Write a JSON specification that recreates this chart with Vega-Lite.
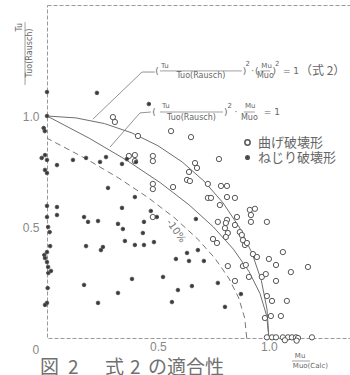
{
  "$schema": "https://vega.github.io/schema/vega-lite/v6.json",
  "width": 304,
  "height": 333,
  "autosize": {"type": "none"},
  "padding": {"left": 47, "top": 5, "right": 0, "bottom": 37},
  "background": "#ffffff",
  "config": {
    "view": {"stroke": "#999999", "strokeDash": [4, 2], "strokeWidth": 1},
    "axis": {"grid": false, "domain": false, "ticks": false, "labelColor": "#888888", "labelFont": "Liberation Sans", "labelFontSize": 12, "title": null}
  },
  "datasets": {
    "points": [
      {"x": 0.297, "y": 0.995, "type": "曲げ破壊形"}, {"x": 0.306, "y": 0.973, "type": "曲げ破壊形"}, {"x": 0.410, "y": 0.910, "type": "曲げ破壊形"}, {"x": 0.559, "y": 0.932, "type": "曲げ破壊形"}, {"x": 0.649, "y": 0.905, "type": "曲げ破壊形"},
      {"x": 0.369, "y": 0.820, "type": "曲げ破壊形"}, {"x": 0.396, "y": 0.824, "type": "曲げ破壊形"}, {"x": 0.396, "y": 0.797, "type": "曲げ破壊形"}, {"x": 0.477, "y": 0.820, "type": "曲げ破壊形"}, {"x": 0.477, "y": 0.797, "type": "曲げ破壊形"},
      {"x": 0.775, "y": 0.806, "type": "曲げ破壊形"}, {"x": 0.667, "y": 0.788, "type": "曲げ破壊形"}, {"x": 0.676, "y": 0.766, "type": "曲げ破壊形"}, {"x": 0.640, "y": 0.748, "type": "曲げ破壊形"}, {"x": 0.631, "y": 0.712, "type": "曲げ破壊形"},
      {"x": 0.644, "y": 0.707, "type": "曲げ破壊形"}, {"x": 0.568, "y": 0.680, "type": "曲げ破壊形"}, {"x": 0.477, "y": 0.694, "type": "曲げ破壊形"}, {"x": 0.477, "y": 0.671, "type": "曲げ破壊形"}, {"x": 0.725, "y": 0.694, "type": "曲げ破壊形"},
      {"x": 0.784, "y": 0.685, "type": "曲げ破壊形"}, {"x": 0.811, "y": 0.685, "type": "曲げ破壊形"}, {"x": 0.725, "y": 0.631, "type": "曲げ破壊形"}, {"x": 0.739, "y": 0.631, "type": "曲げ破壊形"}, {"x": 0.811, "y": 0.635, "type": "曲げ破壊形"},
      {"x": 0.847, "y": 0.631, "type": "曲げ破壊形"}, {"x": 0.779, "y": 0.599, "type": "曲げ破壊形"}, {"x": 0.477, "y": 0.545, "type": "曲げ破壊形"}, {"x": 0.914, "y": 0.577, "type": "曲げ破壊形"}, {"x": 0.937, "y": 0.582, "type": "曲げ破壊形"},
      {"x": 0.919, "y": 0.554, "type": "曲げ破壊形"}, {"x": 0.919, "y": 0.523, "type": "曲げ破壊形"}, {"x": 0.991, "y": 0.523, "type": "曲げ破壊形"}, {"x": 0.811, "y": 0.532, "type": "曲げ破壊形"}, {"x": 0.856, "y": 0.545, "type": "曲げ破壊形"},
      {"x": 0.770, "y": 0.523, "type": "曲げ破壊形"}, {"x": 0.806, "y": 0.518, "type": "曲げ破壊形"}, {"x": 0.802, "y": 0.495, "type": "曲げ破壊形"}, {"x": 0.815, "y": 0.473, "type": "曲げ破壊形"}, {"x": 0.806, "y": 0.455, "type": "曲げ破壊形"},
      {"x": 0.847, "y": 0.509, "type": "曲げ破壊形"}, {"x": 0.869, "y": 0.477, "type": "曲げ破壊形"}, {"x": 0.878, "y": 0.464, "type": "曲げ破壊形"}, {"x": 0.883, "y": 0.441, "type": "曲げ破壊形"}, {"x": 0.892, "y": 0.419, "type": "曲げ破壊形"},
      {"x": 0.748, "y": 0.446, "type": "曲げ破壊形"}, {"x": 0.766, "y": 0.428, "type": "曲げ破壊形"}, {"x": 0.901, "y": 0.428, "type": "曲げ破壊形"}, {"x": 0.928, "y": 0.378, "type": "曲げ破壊形"}, {"x": 0.946, "y": 0.365, "type": "曲げ破壊形"},
      {"x": 1.063, "y": 0.387, "type": "曲げ破壊形"}, {"x": 1.000, "y": 0.356, "type": "曲げ破壊形"}, {"x": 1.032, "y": 0.329, "type": "曲げ破壊形"}, {"x": 0.815, "y": 0.324, "type": "曲げ破壊形"}, {"x": 0.883, "y": 0.324, "type": "曲げ破壊形"},
      {"x": 0.896, "y": 0.329, "type": "曲げ破壊形"}, {"x": 0.910, "y": 0.275, "type": "曲げ破壊形"}, {"x": 0.968, "y": 0.275, "type": "曲げ破壊形"}, {"x": 0.986, "y": 0.288, "type": "曲げ破壊形"}, {"x": 1.032, "y": 0.257, "type": "曲げ破壊形"},
      {"x": 1.099, "y": 0.297, "type": "曲げ破壊形"}, {"x": 1.176, "y": 0.320, "type": "曲げ破壊形"}, {"x": 0.847, "y": 0.257, "type": "曲げ破壊形"}, {"x": 0.991, "y": 0.189, "type": "曲げ破壊形"}, {"x": 1.014, "y": 0.167, "type": "曲げ破壊形"},
      {"x": 1.081, "y": 0.167, "type": "曲げ破壊形"}, {"x": 0.982, "y": 0.090, "type": "曲げ破壊形"}, {"x": 1.009, "y": 0.099, "type": "曲げ破壊形"}, {"x": 1.054, "y": 0.099, "type": "曲げ破壊形"},
      {"x": 0.991, "y": 0.003, "type": "曲げ破壊形"}, {"x": 1.014, "y": 0.003, "type": "曲げ破壊形"}, {"x": 1.032, "y": 0.003, "type": "曲げ破壊形"}, {"x": 1.063, "y": 0.003, "type": "曲げ破壊形"}, {"x": 1.086, "y": 0.003, "type": "曲げ破壊形"},
      {"x": 1.104, "y": 0.003, "type": "曲げ破壊形"}, {"x": 1.122, "y": 0.003, "type": "曲げ破壊形"}, {"x": 1.131, "y": 0.0, "type": "曲げ破壊形"}, {"x": 1.194, "y": 0.003, "type": "曲げ破壊形"}, {"x": 1.072, "y": -0.010, "type": "曲げ破壊形"},
      {"x": 1.125, "y": -0.012, "type": "曲げ破壊形"},
      {"x": 0.0, "y": 1.108, "type": "ねじり破壊形"}, {"x": 0.0, "y": 1.0, "type": "ねじり破壊形"}, {"x": -0.015, "y": 0.946, "type": "ねじり破壊形"}, {"x": -0.010, "y": 0.932, "type": "ねじり破壊形"}, {"x": -0.009, "y": 0.824, "type": "ねじり破壊形"},
      {"x": -0.024, "y": 0.811, "type": "ねじり破壊形"}, {"x": 0.0, "y": 0.802, "type": "ねじり破壊形"}, {"x": -0.009, "y": 0.757, "type": "ねじり破壊形"}, {"x": 0.0, "y": 0.743, "type": "ねじり破壊形"}, {"x": 0.0, "y": 0.595, "type": "ねじり破壊形"},
      {"x": 0.0, "y": 0.545, "type": "ねじり破壊形"}, {"x": 0.005, "y": 0.500, "type": "ねじり破壊形"}, {"x": 0.012, "y": 0.477, "type": "ねじり破壊形"}, {"x": 0.014, "y": 0.414, "type": "ねじり破壊形"}, {"x": 0.0, "y": 0.387, "type": "ねじり破壊形"},
      {"x": -0.012, "y": 0.374, "type": "ねじり破壊形"}, {"x": -0.009, "y": 0.360, "type": "ねじり破壊形"}, {"x": 0.0, "y": 0.342, "type": "ねじり破壊形"}, {"x": 0.005, "y": 0.320, "type": "ねじり破壊形"}, {"x": 0.018, "y": 0.302, "type": "ねじり破壊形"},
      {"x": 0.006, "y": 0.293, "type": "ねじり破壊形"}, {"x": 0.003, "y": 0.225, "type": "ねじり破壊形"}, {"x": 0.0, "y": 0.158, "type": "ねじり破壊形"}, {"x": -0.009, "y": 0.149, "type": "ねじり破壊形"},
      {"x": 0.225, "y": 1.104, "type": "ねじり破壊形"}, {"x": 0.459, "y": 1.054, "type": "ねじり破壊形"}, {"x": 0.045, "y": 0.779, "type": "ねじり破壊形"}, {"x": 0.117, "y": 0.802, "type": "ねじり破壊形"}, {"x": 0.176, "y": 0.811, "type": "ねじり破壊形"},
      {"x": 0.239, "y": 0.793, "type": "ねじり破壊形"}, {"x": 0.266, "y": 0.815, "type": "ねじり破壊形"}, {"x": 0.338, "y": 0.784, "type": "ねじり破壊形"}, {"x": 0.360, "y": 0.806, "type": "ねじり破壊形"}, {"x": 0.401, "y": 0.793, "type": "ねじり破壊形"},
      {"x": 0.275, "y": 0.676, "type": "ねじり破壊形"}, {"x": 0.396, "y": 0.635, "type": "ねじり破壊形"}, {"x": 0.045, "y": 0.590, "type": "ねじり破壊形"}, {"x": 0.045, "y": 0.554, "type": "ねじり破壊形"}, {"x": 0.167, "y": 0.545, "type": "ねじり破壊形"},
      {"x": 0.185, "y": 0.523, "type": "ねじり破壊形"}, {"x": 0.230, "y": 0.527, "type": "ねじり破壊形"}, {"x": 0.338, "y": 0.586, "type": "ねじり破壊形"}, {"x": 0.468, "y": 0.572, "type": "ねじり破壊形"}, {"x": 0.495, "y": 0.545, "type": "ねじり破壊形"},
      {"x": 0.320, "y": 0.514, "type": "ねじり破壊形"}, {"x": 0.342, "y": 0.491, "type": "ねじり破壊形"}, {"x": 0.437, "y": 0.523, "type": "ねじり破壊形"}, {"x": 0.432, "y": 0.473, "type": "ねじり破壊形"}, {"x": 0.351, "y": 0.437, "type": "ねじり破壊形"},
      {"x": 0.396, "y": 0.419, "type": "ねじり破壊形"}, {"x": 0.437, "y": 0.419, "type": "ねじり破壊形"}, {"x": 0.482, "y": 0.432, "type": "ねじり破壊形"}, {"x": 0.176, "y": 0.414, "type": "ねじり破壊形"}, {"x": 0.252, "y": 0.410, "type": "ねじり破壊形"},
      {"x": 0.243, "y": 0.396, "type": "ねじり破壊形"}, {"x": 0.383, "y": 0.266, "type": "ねじり破壊形"}, {"x": 0.167, "y": 0.239, "type": "ねじり破壊形"}, {"x": 0.320, "y": 0.203, "type": "ねじり破壊形"}, {"x": 0.230, "y": 0.158, "type": "ねじり破壊形"},
      {"x": 0.523, "y": 0.275, "type": "ねじり破壊形"}, {"x": 0.563, "y": 0.162, "type": "ねじり破壊形"}, {"x": 0.581, "y": 0.356, "type": "ねじり破壊形"}, {"x": 0.631, "y": 0.383, "type": "ねじり破壊形"}, {"x": 0.640, "y": 0.347, "type": "ねじり破壊形"},
      {"x": 0.680, "y": 0.396, "type": "ねじり破壊形"}, {"x": 0.707, "y": 0.347, "type": "ねじり破壊形"}, {"x": 0.590, "y": 0.216, "type": "ねじり破壊形"}, {"x": 0.653, "y": 0.234, "type": "ねじり破壊形"}, {"x": 0.770, "y": 0.248, "type": "ねじり破壊形"},
      {"x": 0.802, "y": 0.140, "type": "ねじり破壊形"}, {"x": 0.874, "y": 0.198, "type": "ねじり破壊形"}, {"x": 0.671, "y": 0.536, "type": "ねじり破壊形"}
    ],
    "curves": [
      {"curve": "circle", "i": 0, "x": 1.0, "y": 0.0}, {"curve": "circle", "i": 1, "x": 0.9914, "y": 0.1305}, {"curve": "circle", "i": 2, "x": 0.9659, "y": 0.2588},
      {"curve": "circle", "i": 3, "x": 0.9239, "y": 0.3827}, {"curve": "circle", "i": 4, "x": 0.866, "y": 0.5}, {"curve": "circle", "i": 5, "x": 0.7934, "y": 0.6088},
      {"curve": "circle", "i": 6, "x": 0.7071, "y": 0.7071}, {"curve": "circle", "i": 7, "x": 0.6088, "y": 0.7934}, {"curve": "circle", "i": 8, "x": 0.5, "y": 0.866},
      {"curve": "circle", "i": 9, "x": 0.3827, "y": 0.9239}, {"curve": "circle", "i": 10, "x": 0.2588, "y": 0.9659}, {"curve": "circle", "i": 11, "x": 0.1305, "y": 0.9914},
      {"curve": "circle", "i": 12, "x": 0.0, "y": 1.0},
      {"curve": "parabola", "i": 0, "x": 1.0, "y": 0.0}, {"curve": "parabola", "i": 1, "x": 0.99, "y": 0.1}, {"curve": "parabola", "i": 2, "x": 0.96, "y": 0.2},
      {"curve": "parabola", "i": 3, "x": 0.91, "y": 0.3}, {"curve": "parabola", "i": 4, "x": 0.84, "y": 0.4}, {"curve": "parabola", "i": 5, "x": 0.75, "y": 0.5},
      {"curve": "parabola", "i": 6, "x": 0.64, "y": 0.6}, {"curve": "parabola", "i": 7, "x": 0.51, "y": 0.7}, {"curve": "parabola", "i": 8, "x": 0.36, "y": 0.8},
      {"curve": "parabola", "i": 9, "x": 0.19, "y": 0.9}, {"curve": "parabola", "i": 10, "x": 0.0, "y": 1.0},
      {"curve": "minus10", "i": 0, "x": 0.9, "y": 0.0}, {"curve": "minus10", "i": 1, "x": 0.891, "y": 0.09}, {"curve": "minus10", "i": 2, "x": 0.864, "y": 0.18},
      {"curve": "minus10", "i": 3, "x": 0.819, "y": 0.27}, {"curve": "minus10", "i": 4, "x": 0.756, "y": 0.36}, {"curve": "minus10", "i": 5, "x": 0.675, "y": 0.45},
      {"curve": "minus10", "i": 6, "x": 0.576, "y": 0.54}, {"curve": "minus10", "i": 7, "x": 0.459, "y": 0.63}, {"curve": "minus10", "i": 8, "x": 0.324, "y": 0.72},
      {"curve": "minus10", "i": 9, "x": 0.171, "y": 0.81}, {"curve": "minus10", "i": 10, "x": 0.0, "y": 0.9}
    ],
    "leaders": [
      {"id": "a", "i": 0, "x": 0.486, "y": 1.198}, {"id": "a", "i": 1, "x": 0.428, "y": 1.198}, {"id": "a", "i": 2, "x": 0.207, "y": 0.986},
      {"id": "b", "i": 0, "x": 0.468, "y": 1.018}, {"id": "b", "i": 1, "x": 0.419, "y": 1.014}, {"id": "b", "i": 2, "x": 0.284, "y": 0.860}
    ],
    "hbars": [
      {"x": 0.509, "x2": 0.878, "y": 1.203}, {"x": 0.962, "x2": 1.006, "y": 1.203},
      {"x": 0.509, "x2": 0.793, "y": 1.018}, {"x": 0.887, "x2": 0.937, "y": 1.018},
      {"x": 1.104, "x2": 1.185, "y": -0.1036}
    ],
    "vbars": [
      {"x": -0.099, "y": 1.14, "y2": 1.423}
    ],
    "tiny": [
      {"x": 0.5135, "y": 1.227, "text": "Tu"}, {"x": 0.966, "y": 1.227, "text": "Mu"},
      {"x": 0.518, "y": 1.043, "text": "Tu"}, {"x": 0.892, "y": 1.043, "text": "Mu"},
      {"x": 1.117, "y": -0.083, "text": "Mu"}, {"x": 1.108, "y": -0.126, "text": "Muo(Calc)"}
    ],
    "dens": [
      {"x": 0.6935, "y": 1.178, "text": "Tuo(Rausch)"}, {"x": 0.984, "y": 1.178, "text": "Muo"},
      {"x": 0.651, "y": 0.993, "text": "Tuo(Rausch)"}, {"x": 0.912, "y": 0.993, "text": "Muo"}
    ],
    "sups": [
      {"x": 0.905, "y": 1.232, "text": "2"}, {"x": 1.038, "y": 1.232, "text": "2"}, {"x": 0.824, "y": 1.047, "text": "2"}
    ],
    "ytitle": [
      {"x": -0.121, "y": 1.40, "text": "Tu"}, {"x": -0.077, "y": 1.284, "text": "Tuo(Rausch)"}
    ],
    "medium": [
      {"x": 0.4955, "y": 1.203, "text": "("}, {"x": 0.890, "y": 1.203, "text": ")"}, {"x": 0.927, "y": 1.203, "text": "·"},
      {"x": 0.945, "y": 1.203, "text": "("}, {"x": 1.024, "y": 1.203, "text": ")"},
      {"x": 0.482, "y": 1.018, "text": "("}, {"x": 0.806, "y": 1.018, "text": ")"}, {"x": 0.851, "y": 1.018, "text": "·"}
    ],
    "equals": [
      {"x": 1.063, "y": 1.203, "text": "= 1"}, {"x": 0.977, "y": 1.018, "text": "= 1"}
    ],
    "labels": [
      {"x": 1.14, "y": 1.203, "text": "（式 2）"}
    ],
    "ticktext": [
      {"x": -0.05, "y": -0.054, "text": "0"}
    ],
    "pct": [
      {"x": 0.581, "y": 0.482, "text": "-10%"}
    ],
    "caption": [
      {"x": -0.0315, "y": -0.133, "text": "図"}, {"x": 0.0946, "y": -0.133, "text": "2"}, {"x": 0.261, "y": -0.133, "text": "式"},
      {"x": 0.374, "y": -0.133, "text": "2"}, {"x": 0.455, "y": -0.133, "text": "の適合性"}
    ]
  },
  "encoding": {
    "x": {"field": "x", "type": "quantitative", "scale": {"domain": [0, 1.37], "nice": false, "zero": false},
          "axis": {"values": [0.5, 1], "labelExpr": "datum.value == 1 ? '1.0' : '0.5'", "labelPadding": 3}},
    "y": {"field": "y", "type": "quantitative", "scale": {"domain": [0, 1.5], "nice": false, "zero": false},
          "axis": {"values": [0.5, 1], "labelExpr": "datum.value == 1 ? '1.0' : '0.5'", "labelPadding": 8}}
  },
  "layer": [
    {"data": {"name": "curves"}, "transform": [{"filter": "datum.curve != 'minus10'"}],
     "mark": {"type": "line", "stroke": "#6f6f6f", "strokeWidth": 1, "clip": false},
     "encoding": {"detail": {"field": "curve"}, "order": {"field": "i", "type": "quantitative"}}},
    {"data": {"name": "curves"}, "transform": [{"filter": "datum.curve == 'minus10'"}],
     "mark": {"type": "line", "stroke": "#777777", "strokeWidth": 1, "strokeDash": [6, 4]},
     "encoding": {"detail": {"field": "curve"}, "order": {"field": "i", "type": "quantitative"}}},
    {"data": {"name": "leaders"},
     "mark": {"type": "line", "stroke": "#777777", "strokeWidth": 0.8},
     "encoding": {"detail": {"field": "id"}, "order": {"field": "i", "type": "quantitative"}}},
    {"data": {"name": "hbars"},
     "mark": {"type": "rule", "stroke": "#777777", "strokeWidth": 0.7},
     "encoding": {"x2": {"field": "x2"}}},
    {"data": {"name": "vbars"},
     "mark": {"type": "rule", "stroke": "#777777", "strokeWidth": 0.7},
     "encoding": {"y2": {"field": "y2"}}},
    {"data": {"name": "tiny"},
     "mark": {"type": "text", "fontSize": 7, "font": "DejaVu Sans", "align": "left", "baseline": "middle", "color": "#666666"},
     "encoding": {"text": {"field": "text"}}},
    {"data": {"name": "dens"},
     "mark": {"type": "text", "fontSize": 8, "font": "DejaVu Sans", "align": "center", "baseline": "middle", "color": "#666666"},
     "encoding": {"text": {"field": "text"}}},
    {"data": {"name": "sups"},
     "mark": {"type": "text", "fontSize": 7, "font": "DejaVu Sans", "align": "center", "baseline": "middle", "color": "#666666"},
     "encoding": {"text": {"field": "text"}}},
    {"data": {"name": "ytitle"},
     "mark": {"type": "text", "fontSize": 8, "font": "DejaVu Sans", "align": "center", "baseline": "middle", "angle": 270, "color": "#666666"},
     "encoding": {"text": {"field": "text"}}},
    {"data": {"name": "medium"},
     "mark": {"type": "text", "fontSize": 9, "font": "DejaVu Sans", "align": "center", "baseline": "middle", "color": "#666666"},
     "encoding": {"text": {"field": "text"}}},
    {"data": {"name": "equals"},
     "mark": {"type": "text", "fontSize": 9, "font": "DejaVu Sans", "align": "left", "baseline": "middle", "color": "#666666"},
     "encoding": {"text": {"field": "text"}}},
    {"data": {"name": "labels"},
     "mark": {"type": "text", "fontSize": 12, "font": "Noto Sans CJK JP", "align": "left", "baseline": "middle", "color": "#666666"},
     "encoding": {"text": {"field": "text"}}},
    {"data": {"name": "ticktext"},
     "mark": {"type": "text", "fontSize": 12, "font": "Liberation Sans", "align": "center", "baseline": "middle", "color": "#888888"},
     "encoding": {"text": {"field": "text"}}},
    {"data": {"name": "pct"},
     "mark": {"type": "text", "fontSize": 10, "font": "DejaVu Sans", "align": "center", "baseline": "middle", "angle": 55, "color": "#777777"},
     "encoding": {"text": {"field": "text"}}},
    {"data": {"name": "caption"},
     "mark": {"type": "text", "fontSize": 19, "font": "Noto Sans CJK JP", "align": "left", "baseline": "middle", "color": "#707070"},
     "encoding": {"text": {"field": "text"}}},
    {"data": {"name": "points"},
     "mark": {"type": "point", "shape": "circle", "filled": true, "stroke": "#555555", "strokeWidth": 1, "opacity": 1, "clip": false},
     "encoding": {
       "fill": {"field": "type", "type": "nominal",
                "scale": {"domain": ["曲げ破壊形", "ねじり破壊形"], "range": ["#ffffff", "#3a3a3a"]},
                "legend": {"orient": "none", "legendX": 194, "legendY": 131, "title": null, "padding": 0, "rowPadding": 1,
                           "labelFont": "Noto Sans CJK JP", "labelFontSize": 13, "labelColor": "#666666", "labelOffset": 4,
                           "encode": {"symbols": {"update": {"stroke": {"value": "#555555"}, "strokeWidth": {"value": 1}}}}}},
       "size": {"field": "type", "type": "nominal",
                "scale": {"domain": ["曲げ破壊形", "ねじり破壊形"], "range": [28, 13]},
                "legend": {"orient": "none", "legendX": 194, "legendY": 131, "title": null, "padding": 0, "rowPadding": 1,
                           "labelFont": "Noto Sans CJK JP", "labelFontSize": 13, "labelColor": "#666666", "labelOffset": 4,
                           "encode": {"symbols": {"update": {"stroke": {"value": "#555555"}, "strokeWidth": {"value": 1}}}}}}
     }}
  ]
}
